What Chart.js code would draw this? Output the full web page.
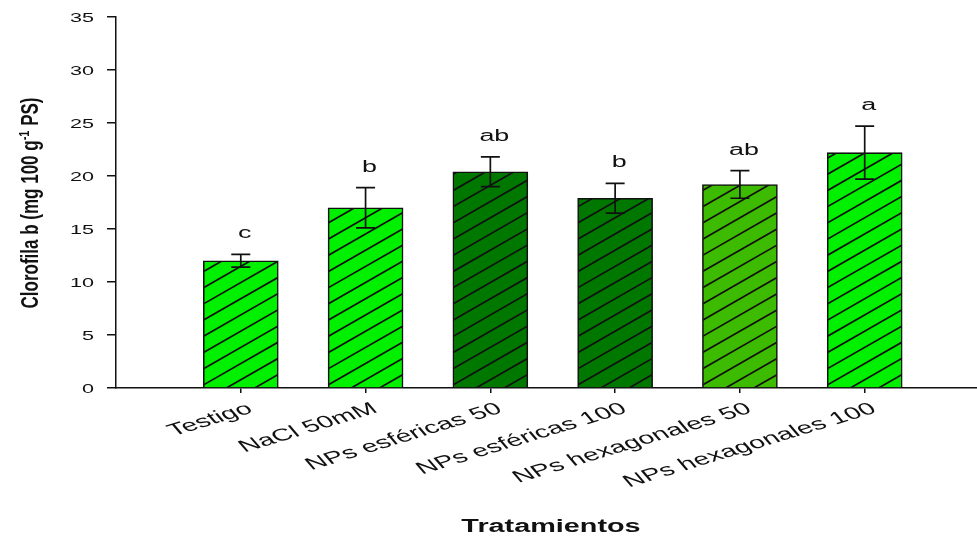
<!DOCTYPE html>
<html>
<head>
<meta charset="utf-8">
<script src="https://cdn.jsdelivr.net/npm/chart.js@4/dist/chart.umd.min.js"></script>
<style>
  html, body { margin: 0; padding: 0; background: #ffffff; }
  #wrap { width: 977px; height: 537px; }
</style>
</head>
<body>
<div id="wrap"><canvas id="c" width="977" height="537"></canvas></div>
<script>
// Treatments and chlorophyll b content (mg 100 g-1 dry weight)
const treatments = ['Testigo', 'NaCl 50mM', 'NPs esféricas 50', 'NPs esféricas 100', 'NPs hexagonales 50', 'NPs hexagonales 100'];
const chlorophyllB = [12.0, 17.0, 20.4, 17.9, 19.2, 22.2];
const stdError = [0.6, 1.9, 1.4, 1.4, 1.3, 2.5];
const groupLetters = ['c', 'b', 'ab', 'b', 'ab', 'a'];
const yTicks = [0, 5, 10, 15, 20, 25, 30, 35];

// Styling
const barColors = ['#00f000', '#00f000', '#007800', '#007800', '#3dbb00', '#00f000'];
const INK = '#111111';
const FONT = '"Liberation Sans", Arial, sans-serif';

function stretchedText(ctx, text, x, y, font, sx, align, angle, baselineShift) {
  ctx.save();
  ctx.translate(x, y);
  ctx.scale(sx, 1);
  if (angle) ctx.rotate(angle);
  ctx.font = font;
  ctx.fillStyle = INK;
  ctx.textAlign = align;
  ctx.textBaseline = 'alphabetic';
  ctx.fillText(text, 0, baselineShift || 0);
  ctx.restore();
}

// Diagonal hatching, error bars and significance letters on each bar
const barDecor = {
  id: 'barDecor',
  afterDatasetsDraw(chart) {
    const ctx = chart.ctx;
    const yScale = chart.scales.y;
    const meta = chart.getDatasetMeta(0);
    meta.data.forEach((bar, i) => {
      const p = bar.getProps(['x', 'y', 'base', 'width'], true);
      const l = p.x - p.width / 2, r = p.x + p.width / 2;
      const t = p.y, b = p.base;
      // hatch
      ctx.save();
      ctx.beginPath();
      ctx.rect(l + 0.8, t + 0.8, p.width - 1.6, b - t - 0.8);
      ctx.clip();
      ctx.strokeStyle = INK;
      ctx.lineWidth = 1.7;
      const slope = 0.573, gap = 16.2;
      const h = b - t;
      ctx.beginPath();
      for (let k = -2; k <= Math.ceil((h + p.width * slope) / gap) + 2; k++) {
        const y0 = b + 14 - k * gap;
        ctx.moveTo(l, y0);
        ctx.lineTo(r, y0 - p.width * slope);
      }
      ctx.stroke();
      ctx.restore();

      // error bar
      const yTop = yScale.getPixelForValue(chlorophyllB[i] + stdError[i]);
      const yBot = yScale.getPixelForValue(chlorophyllB[i] - stdError[i]);
      const cap = 9.5;
      ctx.save();
      ctx.strokeStyle = INK;
      ctx.lineWidth = 1.7;
      ctx.beginPath();
      ctx.moveTo(p.x, yTop); ctx.lineTo(p.x, yBot);
      ctx.moveTo(p.x - cap, yTop); ctx.lineTo(p.x + cap, yTop);
      ctx.moveTo(p.x - cap, yBot); ctx.lineTo(p.x + cap, yBot);
      ctx.stroke();
      ctx.restore();

      // letter
      stretchedText(ctx, groupLetters[i], p.x + 4, yTop - 16, '16px ' + FONT, 1.68, 'center', 0, 0);
    });
  }
};

// Tick labels and axis titles
const axisText = {
  id: 'axisText',
  afterDraw(chart) {
    const ctx = chart.ctx;
    const xs = chart.scales.x, ys = chart.scales.y;
    const area = chart.chartArea;

    yTicks.forEach(v => {
      const py = ys.getPixelForValue(v);
      stretchedText(ctx, String(v), 94, py + 4.8, '13px ' + FONT, 1.66, 'right', 0, 0);
    });

    const theta = 27 * Math.PI / 180;
    treatments.forEach((name, i) => {
      const px = xs.getPixelForValue(i + 1);
      stretchedText(ctx, name, px + 4, area.bottom + 13, '17px ' + FONT, 1.68, 'right', -theta, 12.2);
    });

    stretchedText(ctx, 'Tratamientos', 551, 532, 'bold 18px ' + FONT, 1.6, 'center', 0, 0);

    // rotated y title with superscript
    const f1 = 'bold 17px ' + FONT, f2 = 'bold 11px ' + FONT;
    const p1 = 'Clorofila b (mg 100 g', p2 = '-1', p3 = ' PS)';
    ctx.save();
    ctx.font = f1; const w1 = ctx.measureText(p1).width; const w3 = ctx.measureText(p3).width;
    ctx.font = f2; const w2 = ctx.measureText(p2).width;
    const total = w1 + w2 + w3;
    ctx.translate(30, 203);
    ctx.scale(1.4, 1);
    ctx.rotate(-Math.PI / 2);
    ctx.fillStyle = INK;
    ctx.textAlign = 'left';
    ctx.textBaseline = 'alphabetic';
    const base = 6;
    let cx = -total / 2;
    ctx.font = f1; ctx.fillText(p1, cx, base); cx += w1;
    ctx.font = f2; ctx.fillText(p2, cx, base - 7); cx += w2;
    ctx.font = f1; ctx.fillText(p3, cx, base);
    ctx.restore();
  }
};

new Chart(document.getElementById('c'), {
  type: 'bar',
  data: {
    datasets: [{
      data: chlorophyllB.map((v, i) => ({ x: i + 1, y: v })),
      backgroundColor: barColors,
      borderColor: INK,
      borderWidth: 1.6,
      barThickness: 75
    }]
  },
  options: {
    responsive: false,
    animation: false,
    devicePixelRatio: 1,
    layout: { padding: { top: 17, right: 0, left: 0, bottom: 0 } },
    plugins: { legend: { display: false }, tooltip: { enabled: false } },
    scales: {
      x: {
        type: 'linear',
        min: 0,
        max: 6.9,
        offset: false,
        afterBuildTicks(scale) { scale.ticks = treatments.map((_, i) => ({ value: i + 1 })); },
        afterFit(scale) { scale.height = 149; },
        ticks: { display: false },
        grid: { offset: false, drawOnChartArea: false, drawTicks: true, tickLength: 5, color: INK, lineWidth: 1.5 },
        border: { display: true, color: INK, width: 1.5 }
      },
      y: {
        type: 'linear',
        min: 0,
        max: 35,
        afterBuildTicks(scale) { scale.ticks = yTicks.map(v => ({ value: v })); },
        afterFit(scale) { scale.width = 116; },
        ticks: { display: false },
        grid: { drawOnChartArea: false, drawTicks: true, tickLength: 9, color: INK, lineWidth: 1.5 },
        border: { display: true, color: INK, width: 1.5 }
      }
    }
  },
  plugins: [barDecor, axisText]
});
</script>
</body>
</html>
